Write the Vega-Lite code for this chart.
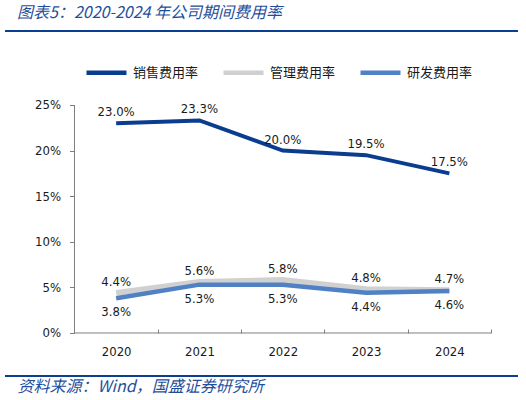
{
  "$schema": "https://vega.github.io/schema/vega-lite/v6.json",
  "width": 513,
  "height": 345,
  "autosize": "none",
  "padding": {"left": 5, "top": 31, "right": 8, "bottom": 24},
  "background": "white",
  "title": {
    "text": "图表5：2020-2024 年公司期间费用率",
    "anchor": "start",
    "frame": "group",
    "baseline": "bottom",
    "offset": 10,
    "dx": 12,
    "dy": 17,
    "font": "Noto Sans CJK SC",
    "fontSize": 16,
    "fontStyle": "italic",
    "fontWeight": "normal",
    "color": "#1F4F9C"
  },
  "config": {"view": {"stroke": null}},
  "data": {
    "values": [
      {"year": 2020, "series": "管理费用率", "v": 0.044},
      {"year": 2021, "series": "管理费用率", "v": 0.056},
      {"year": 2022, "series": "管理费用率", "v": 0.058},
      {"year": 2023, "series": "管理费用率", "v": 0.048},
      {"year": 2024, "series": "管理费用率", "v": 0.047},
      {"year": 2020, "series": "研发费用率", "v": 0.038},
      {"year": 2021, "series": "研发费用率", "v": 0.053},
      {"year": 2022, "series": "研发费用率", "v": 0.053},
      {"year": 2023, "series": "研发费用率", "v": 0.044},
      {"year": 2024, "series": "研发费用率", "v": 0.046},
      {"year": 2020, "series": "销售费用率", "v": 0.230},
      {"year": 2021, "series": "销售费用率", "v": 0.233},
      {"year": 2022, "series": "销售费用率", "v": 0.200},
      {"year": 2023, "series": "销售费用率", "v": 0.195},
      {"year": 2024, "series": "销售费用率", "v": 0.175}
    ]
  },
  "layer": [
    {
      "transform": [{"filter": "datum.series === '管理费用率'"}],
      "mark": {"type": "line", "strokeWidth": 6},
      "encoding": {
        "x": {
          "field": "year",
          "type": "quantitative",
          "scale": {"domain": [2018.6657, 2024.8241], "nice": false, "zero": false},
          "axis": {
            "values": [2020, 2020.5, 2021, 2021.5, 2022, 2022.5, 2023, 2023.5, 2024, 2024.5],
            "offset": -43,
            "domain": false,
            "grid": false,
            "tickSize": -4,
            "tickColor": "#7f7f7f",
            "tickOpacity": {"condition": {"test": "datum.value % 1 === 0", "value": 0}, "value": 1},
            "labelExpr": "datum.value % 1 === 0 ? '' + datum.value : ''",
            "labelOverlap": false,
            "labelFlush": false,
            "labelFont": "'DejaVu Sans Condensed', 'DejaVu Sans'",
            "labelFontSize": 13,
            "labelColor": "#1a1a1a",
            "labelPadding": 16,
            "title": "资料来源：Wind，国盛证券研究所",
            "titleX": 12,
            "titleY": 53,
            "titleAlign": "left",
            "titleBaseline": "middle",
            "titleFont": "Noto Sans CJK SC",
            "titleFontSize": 16,
            "titleFontStyle": "italic",
            "titleFontWeight": "normal",
            "titleColor": "#1F4F9C"
          }
        },
        "y": {
          "field": "v",
          "type": "quantitative",
          "scale": {"domain": [-0.04715, 0.3311], "nice": false, "zero": false},
          "axis": {
            "values": [0, 0.05, 0.1, 0.15, 0.2, 0.25],
            "format": ".0%",
            "offset": -69.5,
            "domain": false,
            "grid": false,
            "tickSize": 5,
            "tickColor": "#7f7f7f",
            "labelFont": "'DejaVu Sans Condensed', 'DejaVu Sans'",
            "labelFontSize": 13,
            "labelColor": "#1a1a1a",
            "labelPadding": 9,
            "title": null
          }
        },
        "color": {
          "field": "series",
          "type": "nominal",
          "scale": {
            "domain": ["销售费用率", "管理费用率", "研发费用率"],
            "range": ["#0A3D8F", "#D0D0D0", "#4F81C4"]
          },
          "legend": {
            "orient": "none",
            "legendX": 79,
            "legendY": 19,
            "direction": "horizontal",
            "title": null,
            "symbolType": "stroke",
            "symbolSize": 1600,
            "symbolStrokeWidth": 4.5,
            "labelFont": "Noto Sans CJK SC",
            "labelFontSize": 13,
            "labelColor": "#1a1a1a",
            "labelOffset": 4,
            "columnPadding": 15
          }
        }
      }
    },
    {
      "transform": [{"filter": "datum.series === '研发费用率'"}],
      "mark": {"type": "line", "strokeWidth": 4.5},
      "encoding": {
        "x": {"field": "year", "type": "quantitative"},
        "y": {"field": "v", "type": "quantitative"},
        "color": {"field": "series", "type": "nominal"}
      }
    },
    {
      "transform": [{"filter": "datum.series === '销售费用率'"}],
      "mark": {"type": "line", "strokeWidth": 4},
      "encoding": {
        "x": {"field": "year", "type": "quantitative"},
        "y": {"field": "v", "type": "quantitative"},
        "color": {"field": "series", "type": "nominal"}
      }
    },
    {
      "transform": [{"filter": "datum.series !== '研发费用率'"}],
      "mark": {"type": "text", "baseline": "middle", "dy": -11, "font": "'DejaVu Sans Condensed', 'DejaVu Sans'", "fontSize": 13, "color": "#1a1a1a"},
      "encoding": {
        "x": {"field": "year", "type": "quantitative"},
        "y": {"field": "v", "type": "quantitative"},
        "text": {"field": "v", "type": "quantitative", "format": ".1%"}
      }
    },
    {
      "transform": [{"filter": "datum.series === '研发费用率'"}],
      "mark": {"type": "text", "baseline": "middle", "dy": 14, "font": "'DejaVu Sans Condensed', 'DejaVu Sans'", "fontSize": 13, "color": "#1a1a1a"},
      "encoding": {
        "x": {"field": "year", "type": "quantitative"},
        "y": {"field": "v", "type": "quantitative"},
        "text": {"field": "v", "type": "quantitative", "format": ".1%"}
      }
    },
    {
      "data": {"values": [{}]},
      "mark": {"type": "rule", "color": "#7f7f7f", "strokeWidth": 1},
      "encoding": {
        "x": {"datum": 2019.5, "type": "quantitative"},
        "y": {"datum": 0, "type": "quantitative"},
        "y2": {"datum": 0.25}
      }
    },
    {
      "data": {"values": [{}]},
      "mark": {"type": "rule", "color": "#7f7f7f", "strokeWidth": 1},
      "encoding": {
        "x": {"datum": 2019.5, "type": "quantitative"},
        "x2": {"datum": 2024.5},
        "y": {"datum": 0, "type": "quantitative"}
      }
    },
    {
      "data": {"values": [{}]},
      "mark": {"type": "rule", "color": "#0B3F91", "strokeWidth": 2},
      "encoding": {"y": {"datum": 0.3311, "type": "quantitative"}}
    },
    {
      "data": {"values": [{}]},
      "mark": {"type": "rule", "color": "#0B3F91", "strokeWidth": 2},
      "encoding": {"y": {"datum": -0.04715, "type": "quantitative"}}
    }
  ]
}
